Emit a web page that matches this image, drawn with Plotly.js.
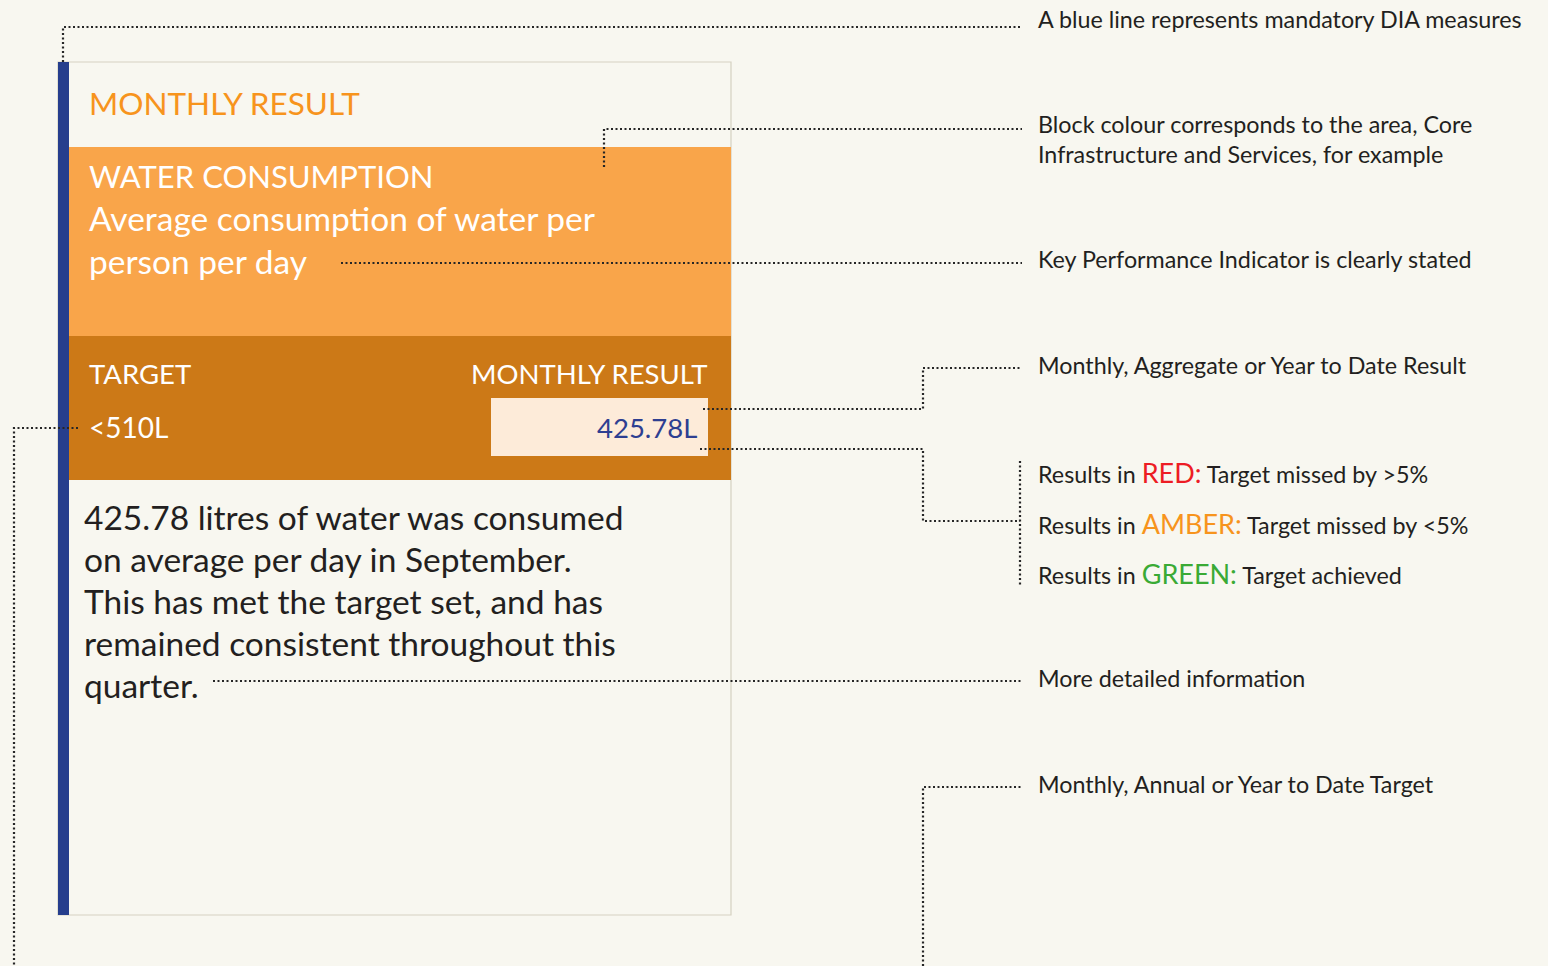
<!DOCTYPE html>
<html>
<head>
<meta charset="utf-8">
<script src="https://cdn.plot.ly/plotly-3.0.1.min.js"></script>
<style>
  html, body { margin: 0; padding: 0; background: #f8f7f0; }
  #chart { width: 1548px; height: 966px; }
</style>
</head>
<body>
<div id="chart"></div>
<script>
// Scorecard key: one KPI card with call-outs explaining each part

// --- content ---
const cardTitle = 'MONTHLY RESULT';
const kpiLines = ['WATER CONSUMPTION', 'Average consumption of water per', 'person per day'];
const targetLabel = 'TARGET';
const resultLabel = 'MONTHLY RESULT';
const targetValue = '&lt;510L';
const resultValue = '425.78L';
const commentLines = [
    '425.78 litres of water was consumed',
    'on average per day in September.',
    'This has met the target set, and has',
    'remained consistent throughout this',
    'quarter.'
];
const noteTexts = [
    'A blue line represents mandatory DIA measures',
    'Block colour corresponds to the area, Core<br>Infrastructure and Services, for example',
    'Key Performance Indicator is clearly stated',
    'Monthly, Aggregate or Year to Date Result',
    'More detailed information',
    'Monthly, Annual or Year to Date Target'
];
const ragNames = ['RED', 'AMBER', 'GREEN'];
const ragMeanings = ['Target missed by &gt;5%', 'Target missed by &lt;5%', 'Target achieved'];

// --- styling ---
const bg = '#f8f7f0';
const ink = '#231f20';
const dotLine = { color: '#262626', width: 2.2, dash: '2px,2.5px' };
const ragColors = ['#ed1c24', '#f7941d', '#3aaa35'];
const font = 'Lato, "Open Sans", sans-serif';

// page is laid out in pixel units: x 0..1548, y 0..966 (downwards)
const noteX = 1036;
const noteY = [19, 139, 259, 365, 678, 784];
const ragY = [472, 523, 573];
const commentY0 = 517, commentGap = 42;
const kpiY = [176, 218, 261];
const kpiSize = [31, 33.5, 33.5];

const shapes = [
    // card frame
    { type: 'rect', x0: 58, x1: 731, y0: 62, y1: 915, fillcolor: bg, line: { color: '#d5d1c1', width: 1.2 } },
    // area colour block and result band
    { type: 'rect', x0: 69, x1: 731, y0: 147, y1: 336, fillcolor: '#f9a54a', line: { width: 0 } },
    { type: 'rect', x0: 69, x1: 731, y0: 336, y1: 480, fillcolor: '#cc7917', line: { width: 0 } },
    { type: 'rect', x0: 491, x1: 708, y0: 398, y1: 456, fillcolor: '#fdebd9', line: { width: 0 } },
    // mandatory measure bar
    { type: 'rect', x0: 58, x1: 69, y0: 62, y1: 915, fillcolor: '#263e8d', line: { width: 0 } }
];

// call-out leader lines
const leaders = [
    'M 63,62 L 63,27 L 1022,27',
    'M 604,167 L 604,129 L 1022,129',
    'M 341,263 L 1022,263',
    'M 703,409 L 923,409 L 923,368 L 1022,368',
    'M 700,449 L 923,449 L 923,521 L 1020,521',
    'M 1020,461 L 1020,585',
    'M 213,681 L 1022,681',
    'M 78,428 L 14,428 L 14,966',
    'M 923,966 L 923,787 L 1022,787'
];
leaders.forEach(p => shapes.push({ type: 'path', path: p, line: dotLine, layer: 'above' }));

const annotations = [];
function addText(text, x, y, size, color, anchor) {
    annotations.push({
        text: text, x: x, y: y, xref: 'x', yref: 'y',
        xanchor: anchor || 'left', yanchor: 'middle', align: anchor || 'left',
        showarrow: false, font: { family: font, size: size, color: color }
    });
}

addText(cardTitle, 87, 103, 31.5, '#f7941d');
kpiLines.forEach((t, i) => addText(t, 87, kpiY[i], kpiSize[i], '#ffffff'));
addText(targetLabel, 87, 373, 27.5, '#ffffff');
addText(resultLabel, 709, 373, 27.5, '#ffffff', 'right');
addText(targetValue, 87, 427, 28, '#ffffff');
addText(resultValue, 699, 427, 27.5, '#2e3f91', 'right');
commentLines.forEach((t, i) => addText(t, 82, commentY0 + i * commentGap, 33.5, ink));

noteTexts.forEach((t, i) => addText(t, noteX, noteY[i], 23.3, ink));
ragNames.forEach((n, i) => {
    const txt = 'Results in <span style="color:' + ragColors[i] + ';font-size:27px">' + n + ':</span> ' + ragMeanings[i];
    addText(txt, noteX, ragY[i], 23.3, ink);
});

const layout = {
    width: 1548,
    height: 966,
    margin: { t: 0, r: 0, b: 0, l: 0 },
    paper_bgcolor: bg,
    plot_bgcolor: bg,
    showlegend: false,
    xaxis: { range: [0, 1548], visible: false, fixedrange: true },
    yaxis: { range: [966, 0], visible: false, fixedrange: true },
    shapes: shapes,
    annotations: annotations
};

Plotly.newPlot('chart', [], layout, { displayModeBar: false, staticPlot: true });
</script>
</body>
</html>
